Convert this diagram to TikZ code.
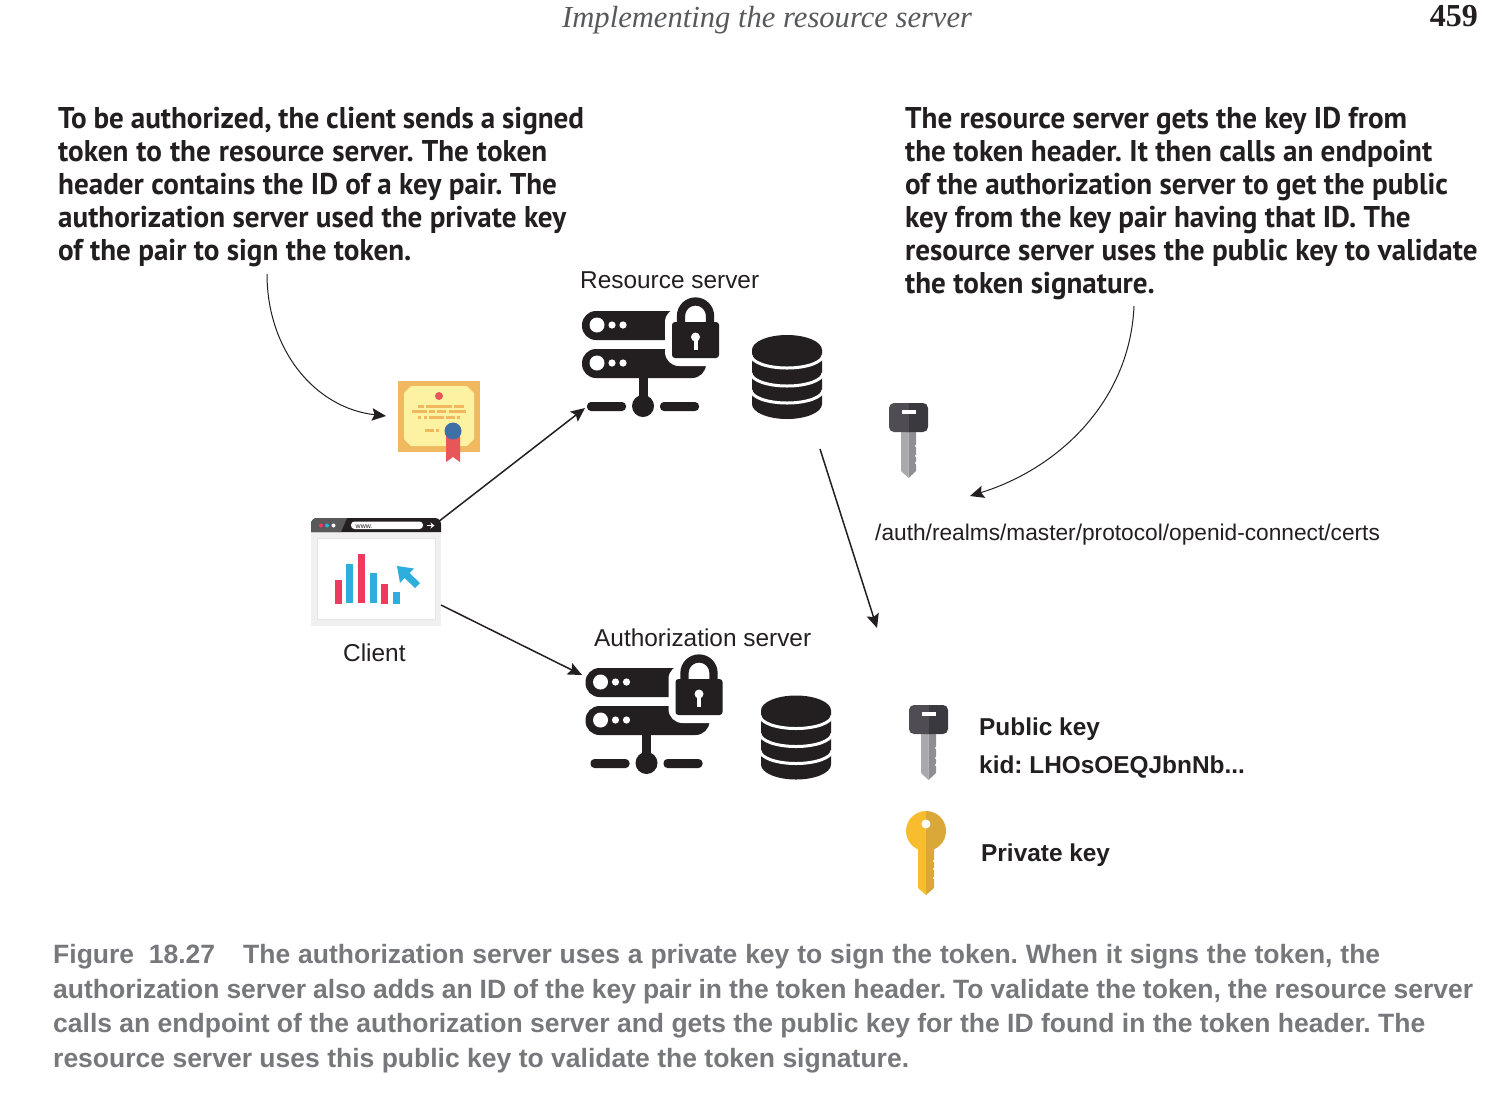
\documentclass[tikz,border=0pt]{standalone}
\usepackage{fontspec}
\setmainfont{Liberation Sans}
\newfontfamily\notefont[FakeStretch=0.97]{PT Sans}
\newfontfamily\serifx{Liberation Serif}
\usetikzlibrary{arrows.meta}
\definecolor{ink}{HTML}{231F20}
\definecolor{capgray}{HTML}{77787B}
\definecolor{headgray}{HTML}{58595B}
\definecolor{certo}{HTML}{F0B95F}
\definecolor{certy}{HTML}{FDF2A1}
\definecolor{certr}{HTML}{E8565A}
\definecolor{certb}{HTML}{3E6FA5}
\definecolor{chartr}{HTML}{EE3A5F}
\definecolor{chartb}{HTML}{2DAEDC}
\definecolor{keyda}{HTML}{4F4D53}
\definecolor{keydb}{HTML}{3A393F}
\definecolor{keyla}{HTML}{A9A8AD}
\definecolor{keylb}{HTML}{8F8E93}
\definecolor{goldb}{HTML}{F8BC2F}
\definecolor{golda}{HTML}{D9A838}
\tikzset{
  x=1pt,y=-1pt,
  conn/.style={draw=ink,line width=1.5pt,-{Stealth[length=14pt,width=12.5pt,inset=2.5pt]}},
  thin conn/.style={draw=ink,line width=1pt,-{Stealth[length=14pt,width=12.5pt,inset=2.5pt]}},
  note/.style={anchor=north west,align=left,inner sep=0pt,text=ink,font=\notefont\bfseries\frenchspacing\fontsize{30}{33}\selectfont},
  lab/.style={anchor=base west,inner sep=0pt,text=ink,font=\frenchspacing\fontsize{24.4}{28}\selectfont},
  blab/.style={anchor=base west,inner sep=0pt,text=ink,font=\bfseries\frenchspacing\fontsize{24.4}{28}\selectfont},
  server/.pic={
    \fill[ink,rounded corners=14pt] (582,311) rectangle (706,340);
    \fill[ink,rounded corners=14pt] (582,349) rectangle (706,378);
    \fill[white,rounded corners=14pt] (665,308) rectangle (735,366);
    \fill[white] (672,300) rectangle (735,320);
    \fill[white] (706,366) rectangle (735,352);
    \fill[ink,rounded corners=3pt] (672,322) rectangle (719,358);
    \draw[ink,line width=8.3pt] (681,326) -- (681,316) arc[start angle=180,end angle=360,radius=14.5] -- (710,326);
    \fill[white] (695.5,337) circle (4.5);
    \fill[white] (693.5,338) rectangle (697.5,350);
    \fill[white] (597,325) circle (7.5) (612,325) circle (3.6) (623,325) circle (3.6);
    \fill[white] (597,363) circle (7.5) (612,363) circle (3.6) (623,363) circle (3.6);
    \fill[ink] (638.5,378) rectangle (647.5,400);
    \fill[ink] (643,406) circle (11);
    \fill[ink,rounded corners=4pt] (587,402) rectangle (626,411);
    \fill[ink,rounded corners=4pt] (660,402) rectangle (699,411);
  },
  dbase/.pic={
    \fill[ink] (752,350) arc[start angle=180,end angle=360,x radius=35,y radius=15]
       -- (822,404) arc[start angle=0,end angle=180,x radius=35,y radius=15] -- cycle;
    \draw[white,line width=3pt] (751,355) arc[start angle=180,end angle=0,x radius=36,y radius=13];
    \draw[white,line width=3pt] (751,373) arc[start angle=180,end angle=0,x radius=36,y radius=13];
    \draw[white,line width=3pt] (751,390) arc[start angle=180,end angle=0,x radius=36,y radius=13];
  },
  gkey/.pic={
    \fill[keyla] (901,430) -- (908.5,430) -- (908.5,478) -- (901,471) -- cycle;
    \fill[keylb] (908.5,430) -- (916,430) -- (916,471) -- (908.5,478) -- cycle;
    \fill[white] (916.5,446) circle (1.6) (916.5,456) circle (1.6) (916.5,463) circle (1.6);
    \fill[keyda,rounded corners=5pt] (889,403) rectangle (915,432);
    \fill[keydb,rounded corners=5pt] (902,403) rectangle (928,432);
    \fill[keyda] (902,403) rectangle (908.5,432);
    \fill[white] (901.5,410) rectangle (915.5,414);
  },
}
\begin{document}
\begin{tikzpicture}
\useasboundingbox (0,0) rectangle (1506,1096);
\fill[white] (0,0) rectangle (1506,1096);

% header
\node[anchor=base west,inner sep=0pt,text=headgray,font=\serifx\itshape\fontsize{30.6}{36}\selectfont] (hd) at (562,27) {Implementing the resource server};
\node[anchor=base east,inner sep=0pt,text=ink,font=\serifx\bfseries\fontsize{32}{36}\selectfont] (pg) at (1478,26) {459};

% notes
\node[note] (n1) at (58,107) {\makebox[526pt][s]{To be authorized, the client sends a signed}\\\makebox[489pt][s]{token to the resource server. The token}\\header contains the ID of a key pair. The\\authorization server used the private key\\of the pair to sign the token.};
\node[note] (n2) at (905,107) {The resource server gets the key ID from\\the token header. It then calls an endpoint\\of the authorization server to get the public\\key from the key pair having that ID. The\\resource server uses the public key to validate\\the token signature.};

% icons
\pic at (0,0) {server};
\pic at (0,0) {dbase};
\pic at (3.5,357) {server};
\pic at (9,360.5) {dbase};

% certificate
\fill[certo] (398,381) rectangle (480,452);
\fill[certy] (411,386) -- (467,386) -- (474,393) -- (474,439) -- (467,446) -- (411,446) -- (404,439) -- (404,393) -- cycle;
\fill[certr] (439,396) circle (4);
\foreach \a/\b in {418/424,426/452,454/464}{\fill[certo] (\a,405) rectangle (\b,408);}
\foreach \a/\b in {412/427,429/435,437/446,449/466}{\fill[certo] (\a,410) rectangle (\b,413);}
\foreach \a/\b in {418/421,424/427,429/444,446/455,457/460}{\fill[certo] (\a,416) rectangle (\b,419);}
\foreach \a/\b in {425/434,436/439}{\fill[certo] (\a,429) rectangle (\b,432);}
\fill[certr] (446,436) -- (460,436) -- (460,462) -- (453,457) -- (446,462) -- cycle;
\fill[certb] (453,431) circle (8.5);

% browser
\fill[black!6] (311,532) rectangle (441,626);
\fill[white] (317,538) rectangle (435,619);
\draw[black!10,line width=1pt] (317,538) rectangle (435,619);
\fill[ink] (311,532) [rounded corners=6pt] -- (311,518) -- (441,518) [sharp corners] -- (441,532) -- cycle;
\fill[black!65] (311,532) [rounded corners=6pt] -- (311,518) [sharp corners] -- (347,518) -- (341,532) -- cycle;
\fill[chartr] (321,525.5) circle (2);
\fill[chartb] (327,525.5) circle (2);
\fill[white] (333.5,525.5) circle (2);
\fill[white,rounded corners=3.5pt] (351,521.5) rectangle (423,529);
\node[anchor=base west,inner sep=0pt,text=ink,font=\fontsize{7}{8}\selectfont] (www) at (355.5,528) {www.};
\draw[white,line width=1.8pt,-{Stealth[length=4pt,width=6pt]}] (427,525.5) -- (434.5,525.5);
\fill[chartr] (335,580) rectangle (342,604);
\fill[chartb] (346,564) rectangle (353,603);
\fill[chartr] (358,554) rectangle (365,603);
\fill[chartb] (370,573) rectangle (377,603);
\fill[chartr] (381,584) rectangle (388,604);
\fill[chartb] (393,592) rectangle (400,604);
\fill[chartb] (397,566) -- (414,568.5) -- (409.5,573) -- (420,583) -- (415,588) -- (404.5,578) -- (400,583) -- cycle;

% keys
\pic at (0,0) {gkey};
\pic at (20,302) {gkey};
\fill[goldb] (926,811) arc[start angle=270,end angle=90,radius=20] -- cycle;
\fill[golda] (926,811) arc[start angle=270,end angle=450,radius=20] -- cycle;
\fill[goldb] (918,845) -- (926,845) -- (926,895) -- (918,888) -- cycle;
\fill[golda] (926,845) -- (934,845) -- (934,888) -- (926,895) -- cycle;
\fill[white] (934.5,861) circle (1.6) (934.5,869) circle (1.6) (934.5,878) circle (1.6);
\fill[white] (926,824) circle (4.5);

% labels
\node[lab] (rs) at (580,288) {Resource server};
\node[lab] (as) at (594,646) {Authorization server};
\node[lab] (cl) at (343,661) {Client};
\node[lab,font=\fontsize{22.7}{28}\selectfont] (ep) at (875,540) {/auth/realms/master/protocol/openid-connect/certs};
\node[blab] (pk) at (979,735) {Public key};
\node[blab] (kd) at (979,773) {kid: LHOsOEQJbnNb...};
\node[blab] (pv) at (981,861) {Private key};

% connectors
\coordinate (c1a) at (438,522); \coordinate (c1b) at (585,408);
\coordinate (c2a) at (441,605); \coordinate (c2b) at (582,675);
\coordinate (c3a) at (820,449); \coordinate (c3b) at (877,628);
\coordinate (c4a) at (267,274); \coordinate (c4b) at (386,416);
\coordinate (c5a) at (1134,306); \coordinate (c5b) at (970,496);
\draw[conn] (c1a) -- (c1b);
\draw[conn] (c2a) -- (c2b);
\draw[conn] (c3a) -- (c3b);
\draw[thin conn] (c4a) .. controls (267,350) and (315,408) .. (c4b);
\draw[thin conn] (c5a) .. controls (1130,400) and (1060,468) .. (c5b);

% caption
\node[anchor=north west,align=left,inner sep=0pt,text=capgray,font=\bfseries\frenchspacing\fontsize{26.5}{34.6}\selectfont] (cap) at (53,944) {\makebox[162pt][s]{Figure 18.27}\hspace{28pt}\makebox[1137pt][s]{The authorization server uses a private key to sign the token. When it signs the token, the}\\\makebox[1420pt][s]{authorization server also adds an ID of the key pair in the token header. To validate the token, the resource server}\\\makebox[1372pt][s]{calls an endpoint of the authorization server and gets the public key for the ID found in the token header. The}\\\makebox[856pt][s]{resource server uses this public key to validate the token signature.}};
\end{tikzpicture}
\end{document}
